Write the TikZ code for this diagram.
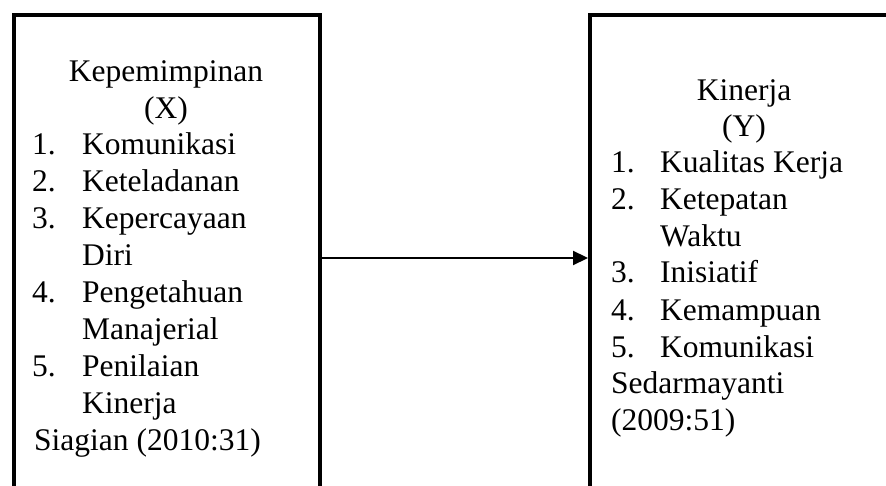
\documentclass[tikz,border=0pt]{standalone}
\usepackage{fontspec}
\setmainfont{Liberation Serif}
\usetikzlibrary{arrows.meta}
\begin{document}
\begin{tikzpicture}[x=1pt, y=-1pt,
    box/.style={draw, line width=4pt, minimum width=306pt, minimum height=486pt, inner sep=0pt},
    txt/.style={inner sep=0pt, font=\fontsize{31.5}{37}\selectfont},
    ttl/.style={txt, anchor=base},
    itm/.style={txt, anchor=base west}]
  \useasboundingbox (0,0) rectangle (886,486);
  \clip (0,0) rectangle (886,486);
  \node[box] (X) at (166.5,258) {};
  \node[box, minimum width=308pt] (Y) at (744,258) {};
  \draw[line width=2.2pt, -{Triangle[length=15pt,width=14pt]}] (X) -- (Y);
  % kepemimpinan
  \node[ttl] (xt1) at (166,82) {Kepemimpinan};
  \node[ttl] (xt2) at (166,119) {(X)};
  \node[itm] (xn1) at (32,155) {1.};
  \node[itm] (xi1) at (82,155) {Komunikasi};
  \node[itm] (xn2) at (32,192) {2.};
  \node[itm] (xi2) at (82,192) {Keteladanan};
  \node[itm] (xn3) at (32,229) {3.};
  \node[itm] (xi3) at (82,229) {Kepercayaan};
  \node[itm] (xi3b) at (82,266) {Diri};
  \node[itm] (xn4) at (32,303) {4.};
  \node[itm] (xi4) at (82,303) {Pengetahuan};
  \node[itm] (xi4b) at (82,339) {Manajerial};
  \node[itm] (xn5) at (32,376) {5.};
  \node[itm] (xi5) at (82,376) {Penilaian};
  \node[itm] (xi5b) at (82,413) {Kinerja};
  \node[itm] (xs) at (34,450) {Siagian (2010:31)};
  % kinerja
  \node[ttl] (yt1) at (744,101) {Kinerja};
  \node[ttl] (yt2) at (744,137) {(Y)};
  \node[itm] (yn1) at (611,173) {1.};
  \node[itm] (yi1) at (660,173) {Kualitas Kerja};
  \node[itm] (yn2) at (611,210) {2.};
  \node[itm] (yi2) at (660,210) {Ketepatan};
  \node[itm] (yi2b) at (660,247) {Waktu};
  \node[itm] (yn3) at (611,283) {3.};
  \node[itm] (yi3) at (660,283) {Inisiatif};
  \node[itm] (yn4) at (611,320) {4.};
  \node[itm] (yi4) at (660,320) {Kemampuan};
  \node[itm] (yn5) at (611,357) {5.};
  \node[itm] (yi5) at (660,357) {Komunikasi};
  \node[itm] (ys1) at (611,393) {Sedarmayanti};
  \node[itm] (ys2) at (611,430) {(2009:51)};
\end{tikzpicture}
\end{document}
